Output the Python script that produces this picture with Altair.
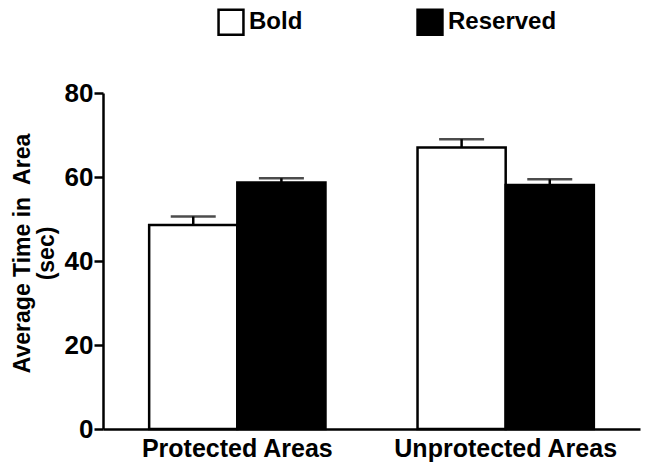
import altair as alt
import pandas as pd

areas = ["Protected Areas", "Protected Areas", "Unprotected Areas", "Unprotected Areas"]
groups = ["Bold", "Reserved", "Bold", "Reserved"]
means = [48.6, 58.7, 67.0, 58.1]
sems = [2.0, 1.0, 2.0, 1.35]

df = pd.DataFrame({"area": areas, "group": groups, "mean": means, "sem": sems})
df["top"] = df["mean"] + df["sem"]

FONT = "Liberation Sans"
area_order = ["Protected Areas", "Unprotected Areas"]
group_order = ["Bold", "Reserved"]

x = alt.X("area:N", sort=area_order, title=None,
          scale=alt.Scale(paddingInner=0.343, paddingOuter=0.172),
          axis=alt.Axis(labelAngle=0, labelFont=FONT, labelFontSize=25, labelFontWeight="bold",
                        labelColor="black", ticks=False, domainColor="black", domainWidth=2.5,
                        labelPadding=7, labelLimit=0))
xo = alt.XOffset("group:N", sort=group_order, scale=alt.Scale(paddingInner=0, paddingOuter=0))

bars = alt.Chart(df).mark_bar(stroke="black", strokeWidth=2.5).encode(
    x=x,
    xOffset=xo,
    y=alt.Y("mean:Q", scale=alt.Scale(domain=[0, 80]),
            title=["Average Time in\u00a0 Area", "(sec)"],
            axis=alt.Axis(values=[0, 20, 40, 60, 80], grid=False, labelFont=FONT, labelFontSize=26,
                          labelFontWeight="bold", labelColor="black", tickColor="black",
                          tickWidth=2.5, tickSize=9, labelPadding=1, domainColor="black",
                          domainWidth=2.5, titleFont=FONT, titleFontSize=23, titleFontWeight="bold",
                          titleColor="black", titleLineHeight=24, titleX=-69, titleY=160)),
    fill=alt.Fill("group:N", sort=group_order,
                  scale=alt.Scale(domain=group_order, range=["white", "black"]),
                  legend=alt.Legend(title=None, orient="none", direction="horizontal",
                                    legendX=114, legendY=-85, symbolType="square",
                                    symbolSize=620, symbolStrokeColor="black",
                                    symbolStrokeWidth=2.5, labelFont=FONT, labelFontSize=24,
                                    labelFontWeight="bold", labelColor="black", labelOffset=4,
                                    columnPadding=109)),
)

err = alt.Chart(df).mark_rule(color="black", strokeWidth=2.5).encode(
    x=alt.X("area:N", sort=area_order),
    xOffset=xo,
    y="mean:Q",
    y2="top:Q",
)

caps = alt.Chart(df).mark_tick(color="black", thickness=2.5, size=45).encode(
    x=alt.X("area:N", sort=area_order),
    xOffset=xo,
    y="top:Q",
)

chart = alt.layer(bars, err, caps).properties(
    width=537, height=336,
    autosize=alt.AutoSizeParams(type="none"),
    padding={"left": 95, "top": 85, "right": 1, "bottom": 40},
).configure_view(stroke=None)

chart.save("out.html", embed_options={"renderer": "svg", "actions": False})
